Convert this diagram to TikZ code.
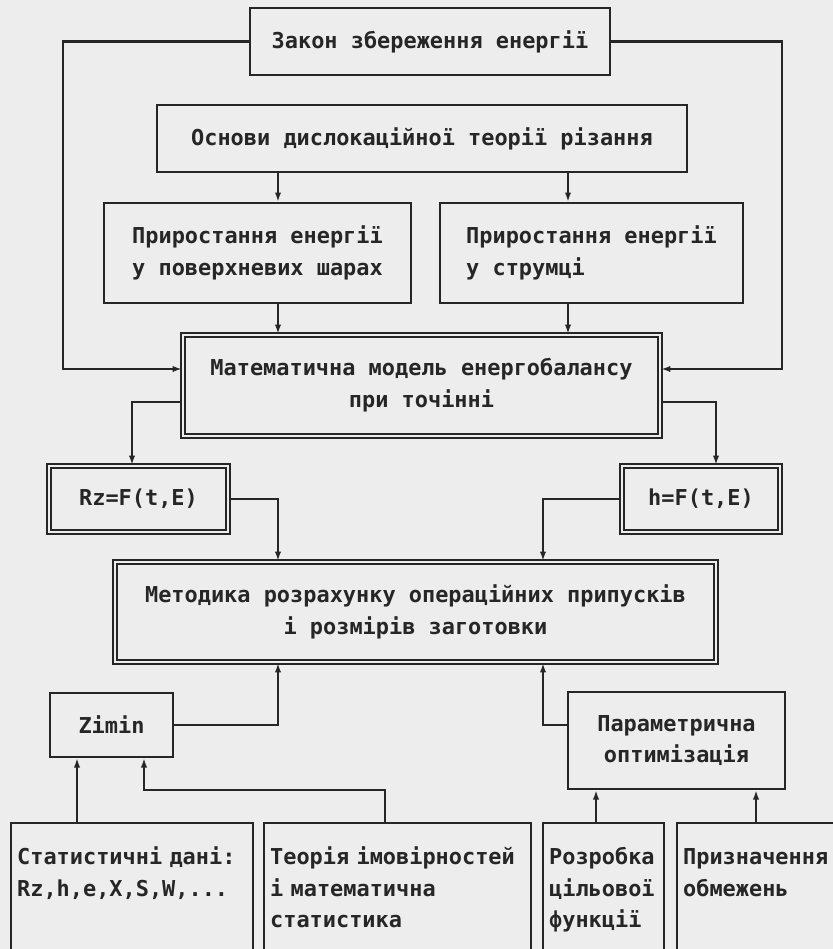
\documentclass[tikz,border=0pt]{standalone}
\usepackage{fontspec}
\setmonofont{DejaVu Sans Mono}
\usetikzlibrary{arrows.meta, positioning}
\definecolor{paper}{gray}{0.93}
\definecolor{ink}{gray}{0.15}

\begin{document}
\begin{tikzpicture}[x=0.3mm, y=-0.3mm,
  font=\ttfamily\bfseries\fontsize{18.7pt}{27.2pt}\selectfont,
  every node/.style={text=ink},
  box/.style={draw=ink, line width=0.7mm, inner sep=0pt},
  dbox/.style={draw=ink, line width=0.65mm, double=paper, double distance=0.5mm, inner sep=0pt},
  footbox/.style={box, anchor=north west, align=left, inner xsep=1.8mm,
    text height=12.3mm, text depth=40mm},
  arr/.style={draw=ink, line width=0.7mm, -{Latex[length=2.8mm,width=1.9mm]}}]

\fill[paper] (0,0) rectangle (833,949);
\useasboundingbox (0,0) rectangle (833,949);

% upper part
\node[box, minimum width=108mm, minimum height=20.1mm] (law) at (430,41.5) {Закон збереження енергії};
\node[box, minimum width=159mm, minimum height=20.1mm] (base) at (422,138.5) {Основи дислокаційної теорії різання};
\node[box, minimum width=92.1mm, minimum height=30mm, align=left] (incsurf) at (257.5,253) {Приростання енергії\\у поверхневих шарах};
\node[box, minimum width=90.9mm, minimum height=30mm, align=left] (incchip) at (591.5,253) {Приростання енергії\\у струмці};
\node[dbox, minimum width=143.1mm, minimum height=30.3mm, align=center] (model) at (421.5,385.5) {Математична модель енергобалансу\\при точінні};

% middle part
\node[dbox, minimum width=53.7mm, minimum height=19.8mm] (rz) at (138.5,499) {Rz=F(t,E)};
\node[dbox, minimum width=47.4mm, minimum height=19.8mm] (hf) at (701,499) {h=F(t,E)};
\node[dbox, minimum width=180.3mm, minimum height=30mm, align=center] (method) at (415.5,612) {Методика розрахунку операційних припусків\\і розмірів заготовки};
\node[box, minimum width=36.9mm, minimum height=19.2mm] (zimin) at (111.5,725) {Zimin};
\node[box, minimum width=65.1mm, minimum height=29.1mm, align=center] (param) at (676.5,740.5) {Параметрична\\оптимізація};

% lower row
\node[footbox, text width=69mm] (stat) at (10,822) {Статистичні дані:\\Rz,h,e,X,S,W,...};
\node[footbox, text width=76.5mm] (prob) at (263,822) {Теорія імовірностей\\і математична\\статистика};
\node[footbox, text width=32.7mm] (goal) at (542,822) {Розробка\\цільової\\функції};
\node[footbox, text width=48.6mm] (limits) at (676,822) {Призначення\\обмежень};

\coordinate (loopL) at (63,200);
\coordinate (loopR) at (782,200);
\coordinate (laneA) at (278,0);
\coordinate (laneB) at (568,0);
\coordinate (laneC) at (543,0);
\coordinate (tapL) at (132,402);
\coordinate (tapR) at (716,402);
\coordinate (probturn) at (385,790);

\draw[arr] (law.west) -| (loopL) |- (model.west |- 0,369);
\draw[arr] (law.east) -| (loopR) |- (model.east |- 0,369);
\draw[arr] (base.south -| laneA) -- (incsurf.north -| laneA);
\draw[arr] (base.south -| laneB) -- (incchip.north -| laneB);
\draw[arr] (incsurf.south -| laneA) -- (model.north -| laneA);
\draw[arr] (incchip.south -| laneB) -- (model.north -| laneB);
\draw[arr] (model.west |- tapL) -| (rz.north -| tapL);
\draw[arr] (model.east |- tapR) -| (hf.north -| tapR);
\draw[arr] (rz.east) -| (method.north -| laneA);
\draw[arr] (hf.west) -| (method.north -| laneC);
\draw[arr] (zimin.east) -| (method.south -| laneA);
\draw[arr] (param.west |- zimin.east) -| (method.south -| laneC);
\draw[arr] (stat.north -| 77,0) -- (zimin.south -| 77,0);
\draw[arr] (prob.north -| probturn) -- (probturn) -| (zimin.south -| 144,0);
\draw[arr] (goal.north -| 596,0) -- (param.south -| 596,0);
\draw[arr] (limits.north -| 756,0) -- (param.south -| 756,0);

\end{tikzpicture}
\end{document}
